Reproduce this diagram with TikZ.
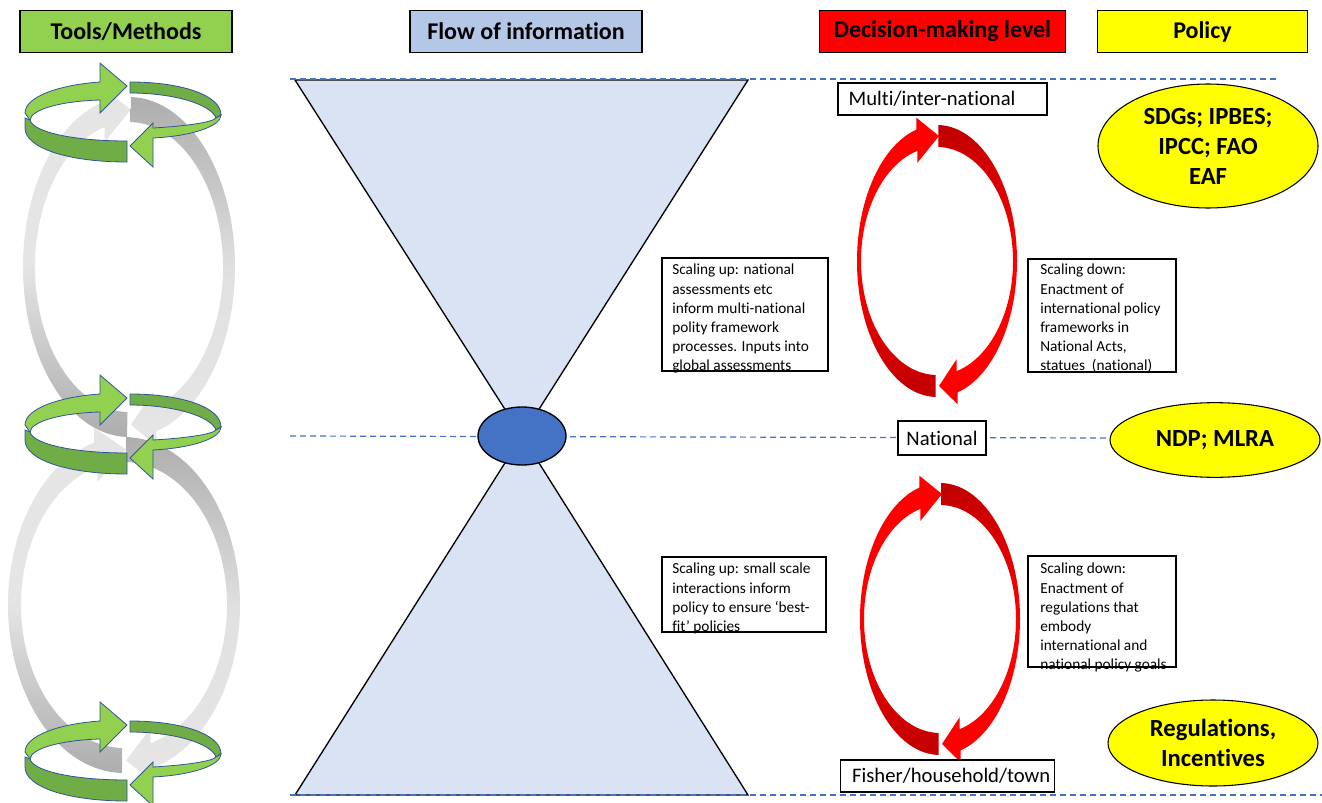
\documentclass[tikz,border=0pt]{standalone}
\usepackage{fontspec}
\setmainfont{Carlito}[Ligatures={TeX,NoCommon}]
\usetikzlibrary{shapes.geometric,calc}

\definecolor{toolgreen}{HTML}{92D050}
\definecolor{greendark}{HTML}{70AD47}
\definecolor{ringline}{HTML}{2F5597}
\definecolor{flowblue}{HTML}{B4C7E7}
\definecolor{glassblue}{HTML}{DAE3F3}
\definecolor{hubblue}{HTML}{4472C4}
\definecolor{darkred}{HTML}{C00000}
\definecolor{policyyellow}{HTML}{FFFF00}

\tikzset{
  header/.style={draw=black, line width=0.8pt, minimum height=31pt, inner sep=0pt,
    font=\fontsize{18}{21}\selectfont\bfseries},
  level/.style={draw=black, fill=white, line width=0.8pt, minimum height=24pt,
    font=\fontsize{15.5}{17}\selectfont},
  boxtext/.style={align=left, inner sep=0pt, font=\fontsize{11.5}{14.4}\selectfont},
  textframe/.style={draw=black, fill=white, line width=0.8pt, inner sep=0pt},
  policy/.style={ellipse, draw=black, fill=policyyellow, line width=0.8pt, inner sep=-8pt,
    align=center, font=\fontsize{18.5}{22.5}\selectfont\bfseries},
  levelline/.style={hubblue, line width=0.9pt, dash pattern=on 4.5pt off 3pt},
  ringlight/.style={fill=toolgreen, draw=ringline, line width=0.6pt},
  ringshade/.style={fill=greendark, draw=ringline, line width=0.6pt},
  redleft/.style={top color=red, bottom color=darkred, middle color=red},
  redright/.style={top color=darkred, bottom color=red, middle color=red},
  greyleft/.style={top color=black!10, bottom color=black!32, middle color=black!10},
  greyright/.style={top color=black!32, bottom color=black!10, middle color=black!12},
}

% two tapered arrows round an ellipse: cx, cy, outer rx, ry, inner rx, ry, prefix, wing
\newcommand{\turnloop}[8]{%
  \shade[#7left] ($(#1,#2)+(91:#3 and #4)$)
    arc[start angle=91, end angle=255, x radius=#3, y radius=#4]
    -- ($(#1,#2)+(255:#3 and #4)+(0,-#8)$)
    -- ({#1+2},{#2-(#4+#6)/2})
    -- ($(#1,#2)+(255:#5 and #6)+(0,#8)$)
    -- ($(#1,#2)+(255:#5 and #6)$)
    arc[start angle=255, end angle=91, x radius=#5, y radius=#6] -- cycle;
  \shade[#7right] ($(#1,#2)+(271:#3 and #4)$)
    arc[start angle=271, end angle=435, x radius=#3, y radius=#4]
    -- ($(#1,#2)+(75:#3 and #4)+(0,#8)$)
    -- ({#1+2},{#2+(#4+#6)/2})
    -- ($(#1,#2)+(75:#5 and #6)+(0,-#8)$)
    -- ($(#1,#2)+(75:#5 and #6)$)
    arc[start angle=435, end angle=271, x radius=#5, y radius=#6] -- cycle;
}

% flat ring of two green arrows
\newcommand{\greenring}[2]{%
  \begin{scope}[shift={(#1,#2)}]
    \filldraw[ringshade] (7,-30) .. controls (58,-30) and (98,-17) .. (98,3)
      -- (93,6) .. controls (88,-8) and (50,-19) .. (7,-19) -- cycle;
    \filldraw[ringlight] (-98,1) .. controls (-98,-15) and (-65,-27) .. (-23,-30)
      -- (-23,-49) -- (4,-26) -- (-23,1) -- (-23,-12)
      .. controls (-60,-11) and (-92,-3) .. (-93,8) -- cycle;
    \filldraw[ringshade] (-93,8) .. controls (-90,20) and (-50,29) .. (4,29)
      -- (4,50) .. controls (-55,50) and (-98,36) .. (-98,16) -- (-98,6) -- cycle;
    \filldraw[ringlight] (98,3) .. controls (98,14) and (70,24) .. (30,26)
      -- (30,55) -- (7,34) -- (30,11) -- (30,16)
      .. controls (65,14) and (90,10) .. (93,6) -- cycle;
  \end{scope}}

\begin{document}
\begin{tikzpicture}[x=0.75pt, y=-0.75pt]
  \useasboundingbox (0,0) rectangle (1322,803);

  % tools column
  \turnloop{129}{267}{106}{170}{94}{145}{grey}{15}
  \turnloop{124}{605}{116}{168}{103}{143}{grey}{15}
  \greenring{123}{112}
  \greenring{123}{424}
  \greenring{123}{751}

  % hourglass
  \coordinate (topL) at (295,80);
  \coordinate (topR) at (748,80);
  \coordinate (neck) at (522,436);
  \coordinate (botL) at (295,795);
  \coordinate (botR) at (748,795);
  \filldraw[fill=glassblue, draw=black, line width=1pt] (topL) -- (topR) -- (neck) -- cycle;
  \filldraw[fill=glassblue, draw=black, line width=1pt] (botL) -- (botR) -- (neck) -- cycle;

  % level lines
  \coordinate (lineA) at (290,79);
  \coordinate (lineAend) at (1278,79);
  \coordinate (lineB) at (290,436);
  \coordinate (lineBend) at (1112,438);
  \coordinate (lineC) at (290,795);
  \coordinate (lineCend) at (1322,795);
  \draw[levelline] (lineA) -- (lineAend);
  \draw[levelline] (lineB) -- (lineBend);
  \draw[levelline] (lineC) -- (lineCend);

  \node[ellipse, draw=black, fill=hubblue, line width=1pt, minimum width=66pt,
    minimum height=43.5pt] (hub) at (neck) {};

  % headers
  \node[header, fill=toolgreen, minimum width=159pt] (tools) at (126,31.5) {Tools/Methods};
  \node[header, fill=flowblue, minimum width=174pt] (flow) at (526,31.5) {Flow of information};
  \node[header, fill=red, minimum width=184pt] (decision) at (942.5,31.5) {Decision-making level};
  \node[header, fill=policyyellow, minimum width=158pt] (policy) at (1202.5,31.5) {Policy};

  % decision-making levels
  \turnloop{937}{261}{80}{136}{76}{114}{red}{12}
  \turnloop{940}{619}{80}{136}{76}{114}{red}{12}
  \node[level, text width=140.75pt, inner xsep=8pt, align=left] (multi) at (942.5,99) {Multi/inter-national};
  \node[level, minimum width=66pt, minimum height=25.5pt] (national) at (942,438) {National};
  \node[level, text width=143pt, inner xsep=9pt, align=left] (fisher) at (947.5,776) {Fisher/household/town};

  % scaling notes
  \node[textframe, minimum width=124.5pt, minimum height=84.75pt] (upA) at (745,314.5) {};
  \node[boxtext, anchor=north west] (upAtext) at (672,264) {Scaling up: national\\assessments etc\\inform multi-national\\polity framework\\processes.  Inputs into\\global assessments};
  \node[textframe, minimum width=111pt, minimum height=84.75pt] (downA) at (1102,315.5) {};
  \node[boxtext, anchor=north west] (downAtext) at (1040,264) {Scaling down:\\Enactment of\\international policy\\frameworks in\\National Acts,\\statues~ (national)};
  \node[textframe, minimum width=123pt, minimum height=56.25pt] (upB) at (744,594.5) {};
  \node[boxtext, anchor=north west] (upBtext) at (672,563) {Scaling up: small scale\\interactions inform\\policy to ensure ‘best-\\fit’ policies};
  \node[textframe, minimum width=111pt, minimum height=83.25pt] (downB) at (1102,611.5) {};
  \node[boxtext, anchor=north west] (downBtext) at (1040,563) {Scaling down:\\Enactment of\\regulations that\\embody\\international and\\national policy goals};

  % policy
  \node[policy, minimum width=165pt, minimum height=93pt] (sdg) at (1208,146) {SDGs; IPBES;\\IPCC; FAO\\EAF};
  \node[policy, minimum width=157.5pt, minimum height=56pt] (ndp) at (1215,440) {NDP; MLRA};
  \node[policy, minimum width=157.5pt, minimum height=64.5pt] (regs) at (1213,743) {Regulations,\\Incentives};
\end{tikzpicture}
\end{document}
